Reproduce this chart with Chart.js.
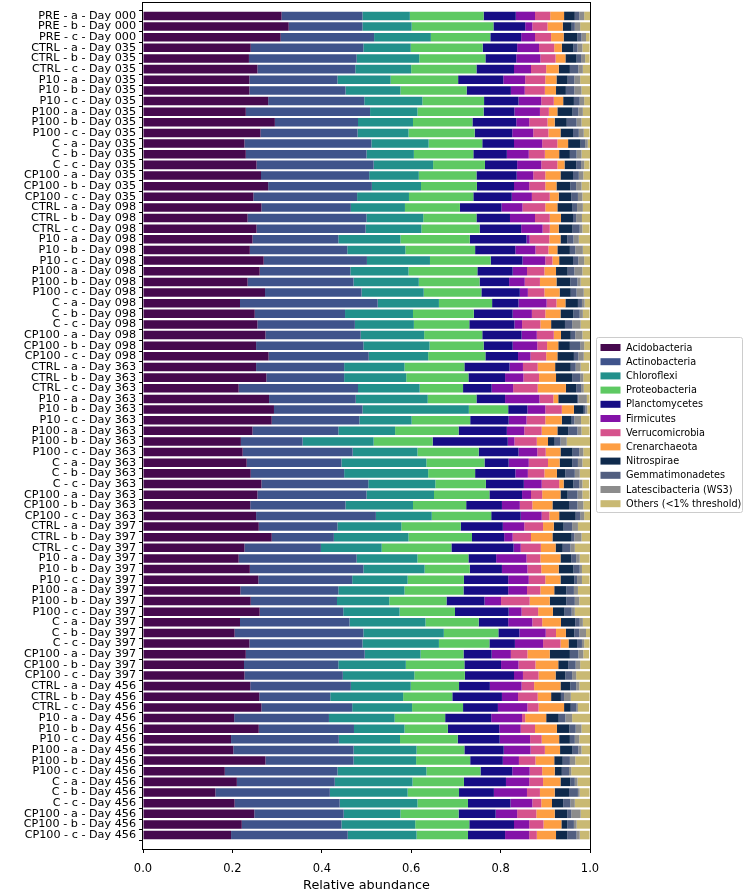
<!DOCTYPE html>
<html><head><meta charset="utf-8">
<script src="https://cdn.jsdelivr.net/npm/chart.js@4.4.0/dist/chart.umd.min.js"></script>
<style>html,body{margin:0;padding:0;background:#fff;}#wrap{width:747px;height:893px;}</style>
</head><body><div id="wrap"><canvas id="c" width="747" height="893"></canvas></div>
<script>
const samples = [
"PRE - a - Day 000","PRE - b - Day 000","PRE - c - Day 000",
"CTRL - a - Day 035","CTRL - b - Day 035","CTRL - c - Day 035","P10 - a - Day 035","P10 - b - Day 035","P10 - c - Day 035","P100 - a - Day 035","P100 - b - Day 035","P100 - c - Day 035","C - a - Day 035","C - b - Day 035","C - c - Day 035","CP100 - a - Day 035","CP100 - b - Day 035","CP100 - c - Day 035",
"CTRL - a - Day 098","CTRL - b - Day 098","CTRL - c - Day 098","P10 - a - Day 098","P10 - b - Day 098","P10 - c - Day 098","P100 - a - Day 098","P100 - b - Day 098","P100 - c - Day 098","C - a - Day 098","C - b - Day 098","C - c - Day 098","CP100 - a - Day 098","CP100 - b - Day 098","CP100 - c - Day 098",
"CTRL - a - Day 363","CTRL - b - Day 363","CTRL - c - Day 363","P10 - a - Day 363","P10 - b - Day 363","P10 - c - Day 363","P100 - a - Day 363","P100 - b - Day 363","P100 - c - Day 363","C - a - Day 363","C - b - Day 363","C - c - Day 363","CP100 - a - Day 363","CP100 - b - Day 363","CP100 - c - Day 363",
"CTRL - a - Day 397","CTRL - b - Day 397","CTRL - c - Day 397","P10 - a - Day 397","P10 - b - Day 397","P10 - c - Day 397","P100 - a - Day 397","P100 - b - Day 397","P100 - c - Day 397","C - a - Day 397","C - b - Day 397","C - c - Day 397","CP100 - a - Day 397","CP100 - b - Day 397","CP100 - c - Day 397",
"CTRL - a - Day 456","CTRL - b - Day 456","CTRL - c - Day 456","P10 - a - Day 456","P10 - b - Day 456","P10 - c - Day 456","P100 - a - Day 456","P100 - b - Day 456","P100 - c - Day 456","C - a - Day 456","C - b - Day 456","C - c - Day 456","CP100 - a - Day 456","CP100 - b - Day 456","CP100 - c - Day 456"
];

const acidobacteria = [.310,.326,.308,.241,.237,.256,.238,.238,.280,.230,.295,.263,.227,.230,.254,.264,.280,.247,.265,.234,.254,.245,.239,.270,.261,.234,.273,.217,.250,.256,.274,.253,.281,.253,.276,.214,.282,.293,.288,.245,.219,.223,.232,.241,.265,.256,.240,.253,.259,.288,.227,.214,.239,.258,.218,.241,.261,.217,.205,.238,.230,.226,.227,.240,.260,.265,.204,.259,.197,.202,.274,.183,.210,.162,.205,.249,.221,.197];
const actinobacteria = [.181,.165,.209,.252,.241,.219,.197,.215,.215,.278,.186,.217,.284,.270,.262,.242,.232,.232,.200,.266,.244,.192,.218,.231,.203,.237,.216,.308,.202,.218,.213,.240,.224,.197,.174,.267,.194,.198,.196,.192,.138,.246,.212,.209,.239,.244,.213,.268,.176,.139,.171,.264,.254,.210,.219,.193,.187,.245,.288,.253,.266,.211,.220,.225,.159,.203,.212,.213,.241,.269,.197,.252,.219,.256,.235,.200,.223,.261];
const chloroflexi = [.106,.110,.127,.106,.140,.125,.119,.123,.130,.106,.123,.114,.128,.106,.133,.111,.110,.116,.121,.127,.125,.139,.130,.141,.130,.146,.139,.137,.152,.132,.142,.148,.133,.135,.139,.138,.161,.238,.117,.127,.159,.145,.190,.188,.150,.151,.151,.125,.143,.167,.136,.136,.137,.124,.148,.117,.126,.170,.180,.171,.125,.151,.160,.134,.163,.134,.147,.113,.137,.141,.140,.199,.174,.174,.174,.127,.165,.154];
const proteobacteria = [.165,.183,.133,.161,.148,.146,.151,.148,.138,.148,.133,.148,.120,.133,.116,.129,.125,.144,.123,.119,.130,.155,.156,.136,.154,.136,.129,.119,.136,.124,.130,.121,.128,.134,.139,.097,.109,.088,.131,.142,.132,.137,.130,.105,.113,.124,.119,.133,.133,.142,.156,.114,.101,.126,.132,.128,.124,.119,.122,.113,.096,.131,.113,.108,.110,.114,.113,.097,.129,.107,.121,.121,.115,.115,.113,.130,.121,.115];
const planctomycetes = [.072,.071,.069,.077,.069,.084,.101,.099,.077,.069,.098,.084,.071,.075,.072,.090,.083,.086,.093,.075,.093,.127,.090,.071,.079,.066,.086,.059,.087,.101,.088,.065,.073,.101,.082,.064,.064,.043,.086,.108,.168,.089,.054,.090,.085,.073,.080,.066,.094,.072,.139,.062,.072,.099,.100,.085,.120,.066,.047,.057,.063,.082,.110,.069,.111,.078,.103,.115,.094,.088,.073,.071,.094,.078,.095,.083,.100,.083];
const firmicutes = [.043,.016,.031,.049,.054,.038,.049,.031,.051,.057,.029,.047,.063,.049,.054,.037,.034,.045,.047,.056,.048,.007,.045,.051,.032,.035,.018,.063,.043,.017,.034,.055,.028,.030,.041,.048,.077,.040,.040,.039,.015,.042,.045,.028,.040,.020,.040,.047,.048,.019,.016,.068,.057,.046,.042,.037,.029,.054,.059,.063,.043,.039,.020,.071,.036,.066,.069,.048,.068,.060,.036,.039,.052,.074,.049,.048,.034,.054];
const verrucomicrobia = [.034,.034,.036,.034,.034,.034,.045,.045,.028,.020,.041,.034,.034,.036,.036,.027,.036,.040,.051,.033,.016,.044,.029,.016,.039,.034,.037,.022,.030,.041,.038,.022,.035,.033,.035,.055,.031,.037,.042,.039,.050,.019,.043,.037,.039,.025,.028,.017,.042,.041,.045,.031,.031,.037,.030,.064,.037,.022,.023,.039,.037,.038,.035,.028,.044,.025,.007,.032,.026,.032,.037,.028,.031,.029,.020,.043,.032,.017];
const crenarchaeota = [.031,.034,.028,.017,.022,.028,.025,.025,.021,.019,.016,.027,.024,.032,.016,.034,.025,.020,.027,.025,.020,.025,.020,.015,.026,.037,.034,.020,.034,.024,.016,.025,.025,.039,.038,.063,.011,.027,.037,.035,.025,.033,.026,.028,.010,.041,.045,.022,.024,.048,.033,.045,.039,.034,.031,.045,.033,.042,.022,.018,.050,.051,.038,.059,.030,.057,.047,.049,.039,.034,.042,.028,.039,.033,.024,.041,.040,.043];
const nitrospirae = [.024,.020,.031,.026,.025,.025,.025,.022,.024,.034,.027,.028,.028,.024,.026,.028,.031,.028,.034,.027,.031,.015,.028,.031,.026,.031,.025,.028,.029,.031,.022,.026,.037,.035,.036,.023,.042,.022,.022,.024,.015,.027,.028,.019,.022,.016,.037,.037,.022,.043,.016,.024,.033,.031,.027,.037,.026,.032,.019,.019,.045,.022,.022,.022,.022,.015,.028,.028,.024,.028,.019,.016,.022,.032,.025,.028,.013,.025];
const gemmatimonadetes = [.010,.007,.009,.009,.010,.019,.015,.019,.013,.013,.022,.013,.010,.015,.011,.013,.013,.015,.010,.007,.016,.014,.012,.012,.015,.016,.013,.009,.014,.016,.010,.023,.010,.011,.018,.011,.003,.004,.006,.021,.013,.015,.013,.021,.013,.022,.019,.010,.019,.006,.017,.011,.014,.006,.017,.019,.016,.010,.011,.011,.019,.017,.015,.013,.007,.013,.015,.014,.011,.013,.016,.016,.010,.020,.016,.009,.015,.021];
const latescibacteria = [.011,.012,.010,.011,.009,.010,.013,.016,.010,.010,.011,.011,.006,.011,.007,.010,.012,.010,.013,.013,.006,.012,.017,.013,.018,.007,.016,.006,.007,.019,.016,.009,.012,.011,.007,.006,.019,.004,.015,.009,.014,.009,.010,.011,.007,.011,.013,.009,.013,.016,.010,.008,.005,.011,.009,.010,.007,.007,.015,.005,.011,.010,.009,.007,.015,.003,.015,.013,.010,.007,.012,.005,.006,.004,.010,.021,.006,.007];
const others = [.013,.022,.008,.016,.010,.016,.023,.019,.013,.016,.019,.013,.006,.019,.012,.015,.018,.017,.017,.019,.016,.025,.016,.013,.018,.021,.014,.012,.015,.021,.017,.013,.015,.019,.015,.015,.006,.006,.019,.018,.053,.016,.017,.023,.015,.016,.016,.013,.027,.019,.034,.022,.018,.017,.027,.025,.034,.016,.010,.012,.013,.022,.031,.025,.042,.025,.042,.019,.025,.019,.032,.042,.028,.022,.034,.021,.030,.022];

const seriesNames = ["Acidobacteria","Actinobacteria","Chloroflexi","Proteobacteria","Planctomycetes","Firmicutes","Verrucomicrobia","Crenarchaeota","Nitrospirae","Gemmatimonadetes","Latescibacteria (WS3)","Others (<1% threshold)"];
const seriesValues = [acidobacteria,actinobacteria,chloroflexi,proteobacteria,planctomycetes,firmicutes,verrucomicrobia,crenarchaeota,nitrospirae,gemmatimonadetes,latescibacteria,others];
const seriesColors = ["#46094e","#3f538b","#22908b","#5ec962","#160d85","#8412a8","#d6528c","#fd9e43","#0f2a4c","#525f80","#8c8c8c","#c9b973"];
const xTicks = [0.0,0.2,0.4,0.6,0.8,1.0];
const xTitle = "Relative abundance";

const FONT = "'DejaVu Sans', sans-serif";

const datasets = seriesValues.map((vals, s) => ({
  label: seriesNames[s],
  data: vals.map((v, i) => ({x: v, y: i})),
  backgroundColor: seriesColors[s],
  borderWidth: 0,
  barPercentage: 0.8,
  categoryPercentage: 1.0
}));

const framePlugin = {
  id: 'frame',
  afterDatasetsDraw(chart) {
    const {ctx, chartArea: a} = chart;
    ctx.save();
    ctx.strokeStyle = '#000';
    ctx.lineWidth = 1;
    ctx.strokeRect(a.left - 0.5, a.top + 0.5, a.right - a.left + 1, a.bottom - a.top);
    ctx.restore();
  }
};

const legendPlugin = {
  id: 'customLegend',
  afterDraw(chart) {
    const {ctx, chartArea: a} = chart;
    const x0 = a.right + 6.5, w = 146, rowH = 14.2;
    const n = seriesNames.length;
    const h = 175;
    const y0 = 337.5;
    ctx.save();
    ctx.fillStyle = 'rgba(255,255,255,0.8)';
    ctx.strokeStyle = '#cccccc';
    ctx.lineWidth = 1;
    ctx.beginPath();
    ctx.roundRect(x0, y0, w, h, 2);
    ctx.fill();
    ctx.stroke();
    ctx.font = "9.7px " + FONT;
    ctx.textBaseline = 'middle';
    ctx.textAlign = 'left';
    for (let i = 0; i < n; i++) {
      const cy = y0 + 10 + i * rowH;
      ctx.fillStyle = seriesColors[i];
      ctx.fillRect(x0 + 4, cy - 3.5, 20, 7);
      ctx.fillStyle = '#000';
      ctx.fillText(seriesNames[i], x0 + 29.5, cy + 0.5);
    }
    ctx.restore();
  }
};

new Chart(document.getElementById('c'), {
  type: 'bar',
  data: { datasets },
  options: {
    indexAxis: 'y',
    responsive: false,
    animation: false,
    devicePixelRatio: 1,
    layout: { padding: { left: 0, right: 157, top: 2, bottom: 0 } },
    plugins: { legend: { display: false }, tooltip: { enabled: false } },
    scales: {
      x: {
        type: 'linear', stacked: true, min: 0, max: 1,
        afterBuildTicks: s => { s.ticks = xTicks.map(v => ({value: v})); },
        afterFit: s => { s.height = 44; },
        grid: { drawOnChartArea: false, drawTicks: true, tickLength: 4, tickColor: '#000', tickWidth: 1 },
        border: { display: false },
        ticks: { color: '#000', font: { family: FONT, size: 11.5 }, padding: 9, callback: v => v.toFixed(1), maxRotation: 0 },
        title: { display: true, text: xTitle, color: '#000', font: { family: FONT, size: 12.8 }, padding: { top: 1, bottom: 0 } }
      },
      y: {
        type: 'linear', stacked: true, reverse: true, min: -0.8, max: samples.length - 0.2,
        afterBuildTicks: s => { s.ticks = samples.map((_, i) => ({value: i})); },
        afterFit: s => { s.width = 143; s.paddingTop = 0; s.paddingBottom = 0; },
        grid: { drawOnChartArea: false, drawTicks: true, tickLength: 4, tickColor: '#000', tickWidth: 1 },
        border: { display: false },
        ticks: { color: '#000', font: { family: FONT, size: 11.2 }, padding: 3, autoSkip: false, callback: v => samples[v] }
      }
    }
  },
  plugins: [framePlugin, legendPlugin]
});
</script>
</body></html>
